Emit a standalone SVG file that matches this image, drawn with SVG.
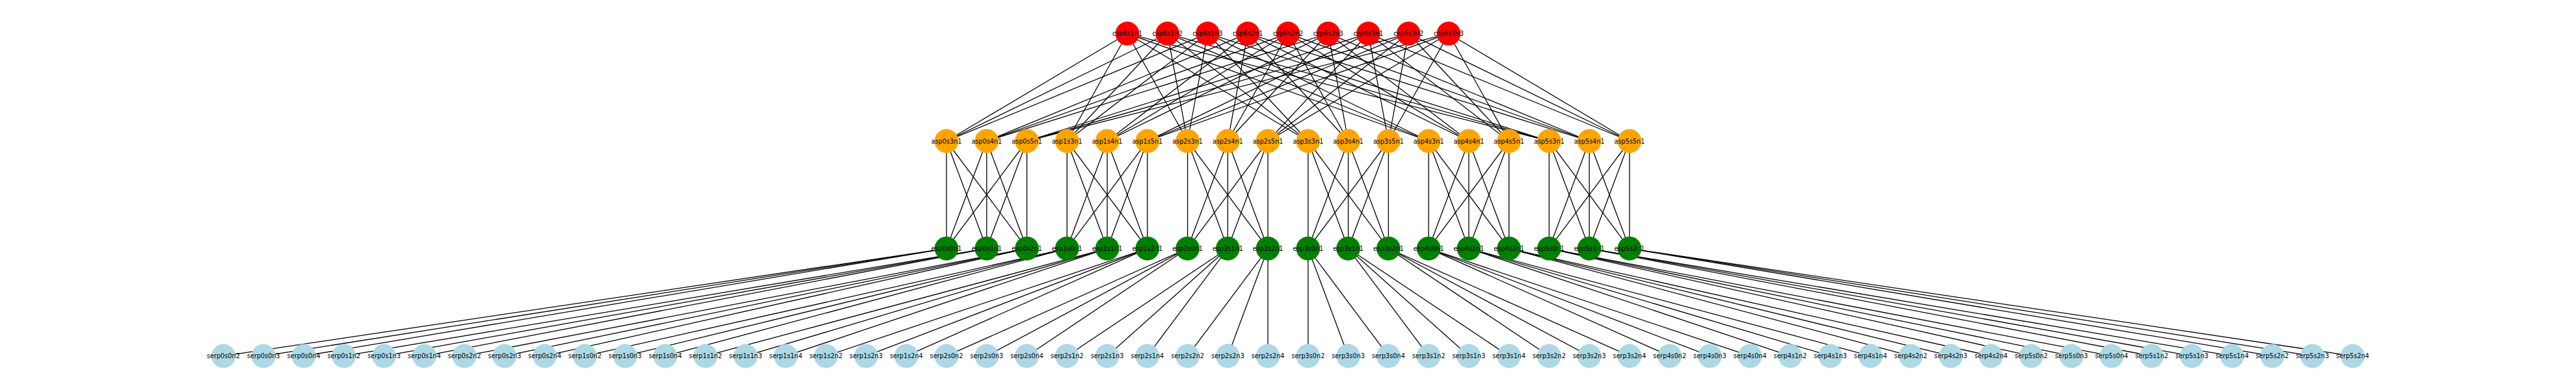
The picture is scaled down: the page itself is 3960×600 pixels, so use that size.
<svg xmlns="http://www.w3.org/2000/svg" width="3960" height="600" viewBox="0 0 3960 600">
<style>
.e line{stroke:#000;stroke-width:1.3}
circle{stroke:none}
.red circle{fill:#ff0000}
.org circle{fill:#ffa500}
.grn circle{fill:#008000}
.blu circle{fill:#add8e6}
text{font-family:"DejaVu Sans","Liberation Sans",sans-serif;font-size:9.7px;fill:#000;text-anchor:middle;dominant-baseline:central}
</style>
<rect width="3960" height="600" fill="#fff"/>
<g id="connectors" class="e">
<!-- super spine to spine -->
<line x1="1455.0" y1="217" x2="1733.0" y2="51.7"/><line x1="1455.0" y1="217" x2="1794.7" y2="51.7"/><line x1="1455.0" y1="217" x2="1856.5" y2="51.7"/>
<line x1="1516.8" y1="217" x2="1918.2" y2="51.7"/><line x1="1516.8" y1="217" x2="1980.0" y2="51.7"/><line x1="1516.8" y1="217" x2="2041.8" y2="51.7"/>
<line x1="1578.6" y1="217" x2="2103.5" y2="51.7"/><line x1="1578.6" y1="217" x2="2165.3" y2="51.7"/><line x1="1578.6" y1="217" x2="2227.0" y2="51.7"/>
<line x1="1640.3" y1="217" x2="1733.0" y2="51.7"/><line x1="1640.3" y1="217" x2="1794.7" y2="51.7"/><line x1="1640.3" y1="217" x2="1856.5" y2="51.7"/>
<line x1="1702.1" y1="217" x2="1918.2" y2="51.7"/><line x1="1702.1" y1="217" x2="1980.0" y2="51.7"/><line x1="1702.1" y1="217" x2="2041.8" y2="51.7"/>
<line x1="1763.8" y1="217" x2="2103.5" y2="51.7"/><line x1="1763.8" y1="217" x2="2165.3" y2="51.7"/><line x1="1763.8" y1="217" x2="2227.0" y2="51.7"/>
<line x1="1825.6" y1="217" x2="1733.0" y2="51.7"/><line x1="1825.6" y1="217" x2="1794.7" y2="51.7"/><line x1="1825.6" y1="217" x2="1856.5" y2="51.7"/>
<line x1="1887.4" y1="217" x2="1918.2" y2="51.7"/><line x1="1887.4" y1="217" x2="1980.0" y2="51.7"/><line x1="1887.4" y1="217" x2="2041.8" y2="51.7"/>
<line x1="1949.1" y1="217" x2="2103.5" y2="51.7"/><line x1="1949.1" y1="217" x2="2165.3" y2="51.7"/><line x1="1949.1" y1="217" x2="2227.0" y2="51.7"/>
<line x1="2010.9" y1="217" x2="1733.0" y2="51.7"/><line x1="2010.9" y1="217" x2="1794.7" y2="51.7"/><line x1="2010.9" y1="217" x2="1856.5" y2="51.7"/>
<line x1="2072.6" y1="217" x2="1918.2" y2="51.7"/><line x1="2072.6" y1="217" x2="1980.0" y2="51.7"/><line x1="2072.6" y1="217" x2="2041.8" y2="51.7"/>
<line x1="2134.4" y1="217" x2="2103.5" y2="51.7"/><line x1="2134.4" y1="217" x2="2165.3" y2="51.7"/><line x1="2134.4" y1="217" x2="2227.0" y2="51.7"/>
<line x1="2196.2" y1="217" x2="1733.0" y2="51.7"/><line x1="2196.2" y1="217" x2="1794.7" y2="51.7"/><line x1="2196.2" y1="217" x2="1856.5" y2="51.7"/>
<line x1="2257.9" y1="217" x2="1918.2" y2="51.7"/><line x1="2257.9" y1="217" x2="1980.0" y2="51.7"/><line x1="2257.9" y1="217" x2="2041.8" y2="51.7"/>
<line x1="2319.7" y1="217" x2="2103.5" y2="51.7"/><line x1="2319.7" y1="217" x2="2165.3" y2="51.7"/><line x1="2319.7" y1="217" x2="2227.0" y2="51.7"/>
<line x1="2381.4" y1="217" x2="1733.0" y2="51.7"/><line x1="2381.4" y1="217" x2="1794.7" y2="51.7"/><line x1="2381.4" y1="217" x2="1856.5" y2="51.7"/>
<line x1="2443.2" y1="217" x2="1918.2" y2="51.7"/><line x1="2443.2" y1="217" x2="1980.0" y2="51.7"/><line x1="2443.2" y1="217" x2="2041.8" y2="51.7"/>
<line x1="2505.0" y1="217" x2="2103.5" y2="51.7"/><line x1="2505.0" y1="217" x2="2165.3" y2="51.7"/><line x1="2505.0" y1="217" x2="2227.0" y2="51.7"/>
<!-- spine to leaf -->
<line x1="1455.0" y1="217" x2="1455.0" y2="382.3"/><line x1="1455.0" y1="217" x2="1516.8" y2="382.3"/><line x1="1455.0" y1="217" x2="1578.6" y2="382.3"/>
<line x1="1516.8" y1="217" x2="1455.0" y2="382.3"/><line x1="1516.8" y1="217" x2="1516.8" y2="382.3"/><line x1="1516.8" y1="217" x2="1578.6" y2="382.3"/>
<line x1="1578.6" y1="217" x2="1455.0" y2="382.3"/><line x1="1578.6" y1="217" x2="1516.8" y2="382.3"/><line x1="1578.6" y1="217" x2="1578.6" y2="382.3"/>
<line x1="1640.3" y1="217" x2="1640.3" y2="382.3"/><line x1="1640.3" y1="217" x2="1702.1" y2="382.3"/><line x1="1640.3" y1="217" x2="1763.8" y2="382.3"/>
<line x1="1702.1" y1="217" x2="1640.3" y2="382.3"/><line x1="1702.1" y1="217" x2="1702.1" y2="382.3"/><line x1="1702.1" y1="217" x2="1763.8" y2="382.3"/>
<line x1="1763.8" y1="217" x2="1640.3" y2="382.3"/><line x1="1763.8" y1="217" x2="1702.1" y2="382.3"/><line x1="1763.8" y1="217" x2="1763.8" y2="382.3"/>
<line x1="1825.6" y1="217" x2="1825.6" y2="382.3"/><line x1="1825.6" y1="217" x2="1887.4" y2="382.3"/><line x1="1825.6" y1="217" x2="1949.1" y2="382.3"/>
<line x1="1887.4" y1="217" x2="1825.6" y2="382.3"/><line x1="1887.4" y1="217" x2="1887.4" y2="382.3"/><line x1="1887.4" y1="217" x2="1949.1" y2="382.3"/>
<line x1="1949.1" y1="217" x2="1825.6" y2="382.3"/><line x1="1949.1" y1="217" x2="1887.4" y2="382.3"/><line x1="1949.1" y1="217" x2="1949.1" y2="382.3"/>
<line x1="2010.9" y1="217" x2="2010.9" y2="382.3"/><line x1="2010.9" y1="217" x2="2072.6" y2="382.3"/><line x1="2010.9" y1="217" x2="2134.4" y2="382.3"/>
<line x1="2072.6" y1="217" x2="2010.9" y2="382.3"/><line x1="2072.6" y1="217" x2="2072.6" y2="382.3"/><line x1="2072.6" y1="217" x2="2134.4" y2="382.3"/>
<line x1="2134.4" y1="217" x2="2010.9" y2="382.3"/><line x1="2134.4" y1="217" x2="2072.6" y2="382.3"/><line x1="2134.4" y1="217" x2="2134.4" y2="382.3"/>
<line x1="2196.2" y1="217" x2="2196.2" y2="382.3"/><line x1="2196.2" y1="217" x2="2257.9" y2="382.3"/><line x1="2196.2" y1="217" x2="2319.7" y2="382.3"/>
<line x1="2257.9" y1="217" x2="2196.2" y2="382.3"/><line x1="2257.9" y1="217" x2="2257.9" y2="382.3"/><line x1="2257.9" y1="217" x2="2319.7" y2="382.3"/>
<line x1="2319.7" y1="217" x2="2196.2" y2="382.3"/><line x1="2319.7" y1="217" x2="2257.9" y2="382.3"/><line x1="2319.7" y1="217" x2="2319.7" y2="382.3"/>
<line x1="2381.4" y1="217" x2="2381.4" y2="382.3"/><line x1="2381.4" y1="217" x2="2443.2" y2="382.3"/><line x1="2381.4" y1="217" x2="2505.0" y2="382.3"/>
<line x1="2443.2" y1="217" x2="2381.4" y2="382.3"/><line x1="2443.2" y1="217" x2="2443.2" y2="382.3"/><line x1="2443.2" y1="217" x2="2505.0" y2="382.3"/>
<line x1="2505.0" y1="217" x2="2381.4" y2="382.3"/><line x1="2505.0" y1="217" x2="2443.2" y2="382.3"/><line x1="2505.0" y1="217" x2="2505.0" y2="382.3"/>
<!-- leaf to server -->
<line x1="1455.0" y1="382.3" x2="343.4" y2="547.7"/><line x1="1455.0" y1="382.3" x2="405.1" y2="547.7"/><line x1="1455.0" y1="382.3" x2="466.9" y2="547.7"/>
<line x1="1516.8" y1="382.3" x2="528.6" y2="547.7"/><line x1="1516.8" y1="382.3" x2="590.4" y2="547.7"/><line x1="1516.8" y1="382.3" x2="652.2" y2="547.7"/>
<line x1="1578.6" y1="382.3" x2="713.9" y2="547.7"/><line x1="1578.6" y1="382.3" x2="775.7" y2="547.7"/><line x1="1578.6" y1="382.3" x2="837.4" y2="547.7"/>
<line x1="1640.3" y1="382.3" x2="899.2" y2="547.7"/><line x1="1640.3" y1="382.3" x2="961.0" y2="547.7"/><line x1="1640.3" y1="382.3" x2="1022.7" y2="547.7"/>
<line x1="1702.1" y1="382.3" x2="1084.5" y2="547.7"/><line x1="1702.1" y1="382.3" x2="1146.2" y2="547.7"/><line x1="1702.1" y1="382.3" x2="1208.0" y2="547.7"/>
<line x1="1763.8" y1="382.3" x2="1269.8" y2="547.7"/><line x1="1763.8" y1="382.3" x2="1331.5" y2="547.7"/><line x1="1763.8" y1="382.3" x2="1393.3" y2="547.7"/>
<line x1="1825.6" y1="382.3" x2="1455.0" y2="547.7"/><line x1="1825.6" y1="382.3" x2="1516.8" y2="547.7"/><line x1="1825.6" y1="382.3" x2="1578.6" y2="547.7"/>
<line x1="1887.4" y1="382.3" x2="1640.3" y2="547.7"/><line x1="1887.4" y1="382.3" x2="1702.1" y2="547.7"/><line x1="1887.4" y1="382.3" x2="1763.8" y2="547.7"/>
<line x1="1949.1" y1="382.3" x2="1825.6" y2="547.7"/><line x1="1949.1" y1="382.3" x2="1887.4" y2="547.7"/><line x1="1949.1" y1="382.3" x2="1949.1" y2="547.7"/>
<line x1="2010.9" y1="382.3" x2="2010.9" y2="547.7"/><line x1="2010.9" y1="382.3" x2="2072.6" y2="547.7"/><line x1="2010.9" y1="382.3" x2="2134.4" y2="547.7"/>
<line x1="2072.6" y1="382.3" x2="2196.2" y2="547.7"/><line x1="2072.6" y1="382.3" x2="2257.9" y2="547.7"/><line x1="2072.6" y1="382.3" x2="2319.7" y2="547.7"/>
<line x1="2134.4" y1="382.3" x2="2381.4" y2="547.7"/><line x1="2134.4" y1="382.3" x2="2443.2" y2="547.7"/><line x1="2134.4" y1="382.3" x2="2505.0" y2="547.7"/>
<line x1="2196.2" y1="382.3" x2="2566.7" y2="547.7"/><line x1="2196.2" y1="382.3" x2="2628.5" y2="547.7"/><line x1="2196.2" y1="382.3" x2="2690.2" y2="547.7"/>
<line x1="2257.9" y1="382.3" x2="2752.0" y2="547.7"/><line x1="2257.9" y1="382.3" x2="2813.8" y2="547.7"/><line x1="2257.9" y1="382.3" x2="2875.5" y2="547.7"/>
<line x1="2319.7" y1="382.3" x2="2937.3" y2="547.7"/><line x1="2319.7" y1="382.3" x2="2999.0" y2="547.7"/><line x1="2319.7" y1="382.3" x2="3060.8" y2="547.7"/>
<line x1="2381.4" y1="382.3" x2="3122.6" y2="547.7"/><line x1="2381.4" y1="382.3" x2="3184.3" y2="547.7"/><line x1="2381.4" y1="382.3" x2="3246.1" y2="547.7"/>
<line x1="2443.2" y1="382.3" x2="3307.8" y2="547.7"/><line x1="2443.2" y1="382.3" x2="3369.6" y2="547.7"/><line x1="2443.2" y1="382.3" x2="3431.4" y2="547.7"/>
<line x1="2505.0" y1="382.3" x2="3493.1" y2="547.7"/><line x1="2505.0" y1="382.3" x2="3554.9" y2="547.7"/><line x1="2505.0" y1="382.3" x2="3616.6" y2="547.7"/>
</g>
<!-- super spine nodes -->
<g id="csp6s1n1" class="red"><circle cx="1733.0" cy="51.7" r="18.4"/><text x="1733.0" y="51.7">csp6s1n1</text></g>
<g id="csp6s1n2" class="red"><circle cx="1794.7" cy="51.7" r="18.4"/><text x="1794.7" y="51.7">csp6s1n2</text></g>
<g id="csp6s1n3" class="red"><circle cx="1856.5" cy="51.7" r="18.4"/><text x="1856.5" y="51.7">csp6s1n3</text></g>
<g id="csp6s2n1" class="red"><circle cx="1918.2" cy="51.7" r="18.4"/><text x="1918.2" y="51.7">csp6s2n1</text></g>
<g id="csp6s2n2" class="red"><circle cx="1980.0" cy="51.7" r="18.4"/><text x="1980.0" y="51.7">csp6s2n2</text></g>
<g id="csp6s2n3" class="red"><circle cx="2041.8" cy="51.7" r="18.4"/><text x="2041.8" y="51.7">csp6s2n3</text></g>
<g id="csp6s3n1" class="red"><circle cx="2103.5" cy="51.7" r="18.4"/><text x="2103.5" y="51.7">csp6s3n1</text></g>
<g id="csp6s3n2" class="red"><circle cx="2165.3" cy="51.7" r="18.4"/><text x="2165.3" y="51.7">csp6s3n2</text></g>
<g id="csp6s3n3" class="red"><circle cx="2227.0" cy="51.7" r="18.4"/><text x="2227.0" y="51.7">csp6s3n3</text></g>
<!-- spine nodes -->
<g id="asp0s3n1" class="org"><circle cx="1455.0" cy="217" r="18.4"/><text x="1455.0" y="217">asp0s3n1</text></g>
<g id="asp0s4n1" class="org"><circle cx="1516.8" cy="217" r="18.4"/><text x="1516.8" y="217">asp0s4n1</text></g>
<g id="asp0s5n1" class="org"><circle cx="1578.6" cy="217" r="18.4"/><text x="1578.6" y="217">asp0s5n1</text></g>
<g id="asp1s3n1" class="org"><circle cx="1640.3" cy="217" r="18.4"/><text x="1640.3" y="217">asp1s3n1</text></g>
<g id="asp1s4n1" class="org"><circle cx="1702.1" cy="217" r="18.4"/><text x="1702.1" y="217">asp1s4n1</text></g>
<g id="asp1s5n1" class="org"><circle cx="1763.8" cy="217" r="18.4"/><text x="1763.8" y="217">asp1s5n1</text></g>
<g id="asp2s3n1" class="org"><circle cx="1825.6" cy="217" r="18.4"/><text x="1825.6" y="217">asp2s3n1</text></g>
<g id="asp2s4n1" class="org"><circle cx="1887.4" cy="217" r="18.4"/><text x="1887.4" y="217">asp2s4n1</text></g>
<g id="asp2s5n1" class="org"><circle cx="1949.1" cy="217" r="18.4"/><text x="1949.1" y="217">asp2s5n1</text></g>
<g id="asp3s3n1" class="org"><circle cx="2010.9" cy="217" r="18.4"/><text x="2010.9" y="217">asp3s3n1</text></g>
<g id="asp3s4n1" class="org"><circle cx="2072.6" cy="217" r="18.4"/><text x="2072.6" y="217">asp3s4n1</text></g>
<g id="asp3s5n1" class="org"><circle cx="2134.4" cy="217" r="18.4"/><text x="2134.4" y="217">asp3s5n1</text></g>
<g id="asp4s3n1" class="org"><circle cx="2196.2" cy="217" r="18.4"/><text x="2196.2" y="217">asp4s3n1</text></g>
<g id="asp4s4n1" class="org"><circle cx="2257.9" cy="217" r="18.4"/><text x="2257.9" y="217">asp4s4n1</text></g>
<g id="asp4s5n1" class="org"><circle cx="2319.7" cy="217" r="18.4"/><text x="2319.7" y="217">asp4s5n1</text></g>
<g id="asp5s3n1" class="org"><circle cx="2381.4" cy="217" r="18.4"/><text x="2381.4" y="217">asp5s3n1</text></g>
<g id="asp5s4n1" class="org"><circle cx="2443.2" cy="217" r="18.4"/><text x="2443.2" y="217">asp5s4n1</text></g>
<g id="asp5s5n1" class="org"><circle cx="2505.0" cy="217" r="18.4"/><text x="2505.0" y="217">asp5s5n1</text></g>
<!-- leaf nodes -->
<g id="esp0s0n1" class="grn"><circle cx="1455.0" cy="382.3" r="18.4"/><text x="1455.0" y="382.3">esp0s0n1</text></g>
<g id="esp0s1n1" class="grn"><circle cx="1516.8" cy="382.3" r="18.4"/><text x="1516.8" y="382.3">esp0s1n1</text></g>
<g id="esp0s2n1" class="grn"><circle cx="1578.6" cy="382.3" r="18.4"/><text x="1578.6" y="382.3">esp0s2n1</text></g>
<g id="esp1s0n1" class="grn"><circle cx="1640.3" cy="382.3" r="18.4"/><text x="1640.3" y="382.3">esp1s0n1</text></g>
<g id="esp1s1n1" class="grn"><circle cx="1702.1" cy="382.3" r="18.4"/><text x="1702.1" y="382.3">esp1s1n1</text></g>
<g id="esp1s2n1" class="grn"><circle cx="1763.8" cy="382.3" r="18.4"/><text x="1763.8" y="382.3">esp1s2n1</text></g>
<g id="esp2s0n1" class="grn"><circle cx="1825.6" cy="382.3" r="18.4"/><text x="1825.6" y="382.3">esp2s0n1</text></g>
<g id="esp2s1n1" class="grn"><circle cx="1887.4" cy="382.3" r="18.4"/><text x="1887.4" y="382.3">esp2s1n1</text></g>
<g id="esp2s2n1" class="grn"><circle cx="1949.1" cy="382.3" r="18.4"/><text x="1949.1" y="382.3">esp2s2n1</text></g>
<g id="esp3s0n1" class="grn"><circle cx="2010.9" cy="382.3" r="18.4"/><text x="2010.9" y="382.3">esp3s0n1</text></g>
<g id="esp3s1n1" class="grn"><circle cx="2072.6" cy="382.3" r="18.4"/><text x="2072.6" y="382.3">esp3s1n1</text></g>
<g id="esp3s2n1" class="grn"><circle cx="2134.4" cy="382.3" r="18.4"/><text x="2134.4" y="382.3">esp3s2n1</text></g>
<g id="esp4s0n1" class="grn"><circle cx="2196.2" cy="382.3" r="18.4"/><text x="2196.2" y="382.3">esp4s0n1</text></g>
<g id="esp4s1n1" class="grn"><circle cx="2257.9" cy="382.3" r="18.4"/><text x="2257.9" y="382.3">esp4s1n1</text></g>
<g id="esp4s2n1" class="grn"><circle cx="2319.7" cy="382.3" r="18.4"/><text x="2319.7" y="382.3">esp4s2n1</text></g>
<g id="esp5s0n1" class="grn"><circle cx="2381.4" cy="382.3" r="18.4"/><text x="2381.4" y="382.3">esp5s0n1</text></g>
<g id="esp5s1n1" class="grn"><circle cx="2443.2" cy="382.3" r="18.4"/><text x="2443.2" y="382.3">esp5s1n1</text></g>
<g id="esp5s2n1" class="grn"><circle cx="2505.0" cy="382.3" r="18.4"/><text x="2505.0" y="382.3">esp5s2n1</text></g>
<!-- server nodes -->
<g id="serp0s0n2" class="blu"><circle cx="343.4" cy="547.7" r="18.4"/><text x="343.4" y="547.7">serp0s0n2</text></g>
<g id="serp0s0n3" class="blu"><circle cx="405.1" cy="547.7" r="18.4"/><text x="405.1" y="547.7">serp0s0n3</text></g>
<g id="serp0s0n4" class="blu"><circle cx="466.9" cy="547.7" r="18.4"/><text x="466.9" y="547.7">serp0s0n4</text></g>
<g id="serp0s1n2" class="blu"><circle cx="528.6" cy="547.7" r="18.4"/><text x="528.6" y="547.7">serp0s1n2</text></g>
<g id="serp0s1n3" class="blu"><circle cx="590.4" cy="547.7" r="18.4"/><text x="590.4" y="547.7">serp0s1n3</text></g>
<g id="serp0s1n4" class="blu"><circle cx="652.2" cy="547.7" r="18.4"/><text x="652.2" y="547.7">serp0s1n4</text></g>
<g id="serp0s2n2" class="blu"><circle cx="713.9" cy="547.7" r="18.4"/><text x="713.9" y="547.7">serp0s2n2</text></g>
<g id="serp0s2n3" class="blu"><circle cx="775.7" cy="547.7" r="18.4"/><text x="775.7" y="547.7">serp0s2n3</text></g>
<g id="serp0s2n4" class="blu"><circle cx="837.4" cy="547.7" r="18.4"/><text x="837.4" y="547.7">serp0s2n4</text></g>
<g id="serp1s0n2" class="blu"><circle cx="899.2" cy="547.7" r="18.4"/><text x="899.2" y="547.7">serp1s0n2</text></g>
<g id="serp1s0n3" class="blu"><circle cx="961.0" cy="547.7" r="18.4"/><text x="961.0" y="547.7">serp1s0n3</text></g>
<g id="serp1s0n4" class="blu"><circle cx="1022.7" cy="547.7" r="18.4"/><text x="1022.7" y="547.7">serp1s0n4</text></g>
<g id="serp1s1n2" class="blu"><circle cx="1084.5" cy="547.7" r="18.4"/><text x="1084.5" y="547.7">serp1s1n2</text></g>
<g id="serp1s1n3" class="blu"><circle cx="1146.2" cy="547.7" r="18.4"/><text x="1146.2" y="547.7">serp1s1n3</text></g>
<g id="serp1s1n4" class="blu"><circle cx="1208.0" cy="547.7" r="18.4"/><text x="1208.0" y="547.7">serp1s1n4</text></g>
<g id="serp1s2n2" class="blu"><circle cx="1269.8" cy="547.7" r="18.4"/><text x="1269.8" y="547.7">serp1s2n2</text></g>
<g id="serp1s2n3" class="blu"><circle cx="1331.5" cy="547.7" r="18.4"/><text x="1331.5" y="547.7">serp1s2n3</text></g>
<g id="serp1s2n4" class="blu"><circle cx="1393.3" cy="547.7" r="18.4"/><text x="1393.3" y="547.7">serp1s2n4</text></g>
<g id="serp2s0n2" class="blu"><circle cx="1455.0" cy="547.7" r="18.4"/><text x="1455.0" y="547.7">serp2s0n2</text></g>
<g id="serp2s0n3" class="blu"><circle cx="1516.8" cy="547.7" r="18.4"/><text x="1516.8" y="547.7">serp2s0n3</text></g>
<g id="serp2s0n4" class="blu"><circle cx="1578.6" cy="547.7" r="18.4"/><text x="1578.6" y="547.7">serp2s0n4</text></g>
<g id="serp2s1n2" class="blu"><circle cx="1640.3" cy="547.7" r="18.4"/><text x="1640.3" y="547.7">serp2s1n2</text></g>
<g id="serp2s1n3" class="blu"><circle cx="1702.1" cy="547.7" r="18.4"/><text x="1702.1" y="547.7">serp2s1n3</text></g>
<g id="serp2s1n4" class="blu"><circle cx="1763.8" cy="547.7" r="18.4"/><text x="1763.8" y="547.7">serp2s1n4</text></g>
<g id="serp2s2n2" class="blu"><circle cx="1825.6" cy="547.7" r="18.4"/><text x="1825.6" y="547.7">serp2s2n2</text></g>
<g id="serp2s2n3" class="blu"><circle cx="1887.4" cy="547.7" r="18.4"/><text x="1887.4" y="547.7">serp2s2n3</text></g>
<g id="serp2s2n4" class="blu"><circle cx="1949.1" cy="547.7" r="18.4"/><text x="1949.1" y="547.7">serp2s2n4</text></g>
<g id="serp3s0n2" class="blu"><circle cx="2010.9" cy="547.7" r="18.4"/><text x="2010.9" y="547.7">serp3s0n2</text></g>
<g id="serp3s0n3" class="blu"><circle cx="2072.6" cy="547.7" r="18.4"/><text x="2072.6" y="547.7">serp3s0n3</text></g>
<g id="serp3s0n4" class="blu"><circle cx="2134.4" cy="547.7" r="18.4"/><text x="2134.4" y="547.7">serp3s0n4</text></g>
<g id="serp3s1n2" class="blu"><circle cx="2196.2" cy="547.7" r="18.4"/><text x="2196.2" y="547.7">serp3s1n2</text></g>
<g id="serp3s1n3" class="blu"><circle cx="2257.9" cy="547.7" r="18.4"/><text x="2257.9" y="547.7">serp3s1n3</text></g>
<g id="serp3s1n4" class="blu"><circle cx="2319.7" cy="547.7" r="18.4"/><text x="2319.7" y="547.7">serp3s1n4</text></g>
<g id="serp3s2n2" class="blu"><circle cx="2381.4" cy="547.7" r="18.4"/><text x="2381.4" y="547.7">serp3s2n2</text></g>
<g id="serp3s2n3" class="blu"><circle cx="2443.2" cy="547.7" r="18.4"/><text x="2443.2" y="547.7">serp3s2n3</text></g>
<g id="serp3s2n4" class="blu"><circle cx="2505.0" cy="547.7" r="18.4"/><text x="2505.0" y="547.7">serp3s2n4</text></g>
<g id="serp4s0n2" class="blu"><circle cx="2566.7" cy="547.7" r="18.4"/><text x="2566.7" y="547.7">serp4s0n2</text></g>
<g id="serp4s0n3" class="blu"><circle cx="2628.5" cy="547.7" r="18.4"/><text x="2628.5" y="547.7">serp4s0n3</text></g>
<g id="serp4s0n4" class="blu"><circle cx="2690.2" cy="547.7" r="18.4"/><text x="2690.2" y="547.7">serp4s0n4</text></g>
<g id="serp4s1n2" class="blu"><circle cx="2752.0" cy="547.7" r="18.4"/><text x="2752.0" y="547.7">serp4s1n2</text></g>
<g id="serp4s1n3" class="blu"><circle cx="2813.8" cy="547.7" r="18.4"/><text x="2813.8" y="547.7">serp4s1n3</text></g>
<g id="serp4s1n4" class="blu"><circle cx="2875.5" cy="547.7" r="18.4"/><text x="2875.5" y="547.7">serp4s1n4</text></g>
<g id="serp4s2n2" class="blu"><circle cx="2937.3" cy="547.7" r="18.4"/><text x="2937.3" y="547.7">serp4s2n2</text></g>
<g id="serp4s2n3" class="blu"><circle cx="2999.0" cy="547.7" r="18.4"/><text x="2999.0" y="547.7">serp4s2n3</text></g>
<g id="serp4s2n4" class="blu"><circle cx="3060.8" cy="547.7" r="18.4"/><text x="3060.8" y="547.7">serp4s2n4</text></g>
<g id="serp5s0n2" class="blu"><circle cx="3122.6" cy="547.7" r="18.4"/><text x="3122.6" y="547.7">serp5s0n2</text></g>
<g id="serp5s0n3" class="blu"><circle cx="3184.3" cy="547.7" r="18.4"/><text x="3184.3" y="547.7">serp5s0n3</text></g>
<g id="serp5s0n4" class="blu"><circle cx="3246.1" cy="547.7" r="18.4"/><text x="3246.1" y="547.7">serp5s0n4</text></g>
<g id="serp5s1n2" class="blu"><circle cx="3307.8" cy="547.7" r="18.4"/><text x="3307.8" y="547.7">serp5s1n2</text></g>
<g id="serp5s1n3" class="blu"><circle cx="3369.6" cy="547.7" r="18.4"/><text x="3369.6" y="547.7">serp5s1n3</text></g>
<g id="serp5s1n4" class="blu"><circle cx="3431.4" cy="547.7" r="18.4"/><text x="3431.4" y="547.7">serp5s1n4</text></g>
<g id="serp5s2n2" class="blu"><circle cx="3493.1" cy="547.7" r="18.4"/><text x="3493.1" y="547.7">serp5s2n2</text></g>
<g id="serp5s2n3" class="blu"><circle cx="3554.9" cy="547.7" r="18.4"/><text x="3554.9" y="547.7">serp5s2n3</text></g>
<g id="serp5s2n4" class="blu"><circle cx="3616.6" cy="547.7" r="18.4"/><text x="3616.6" y="547.7">serp5s2n4</text></g>
</svg>
